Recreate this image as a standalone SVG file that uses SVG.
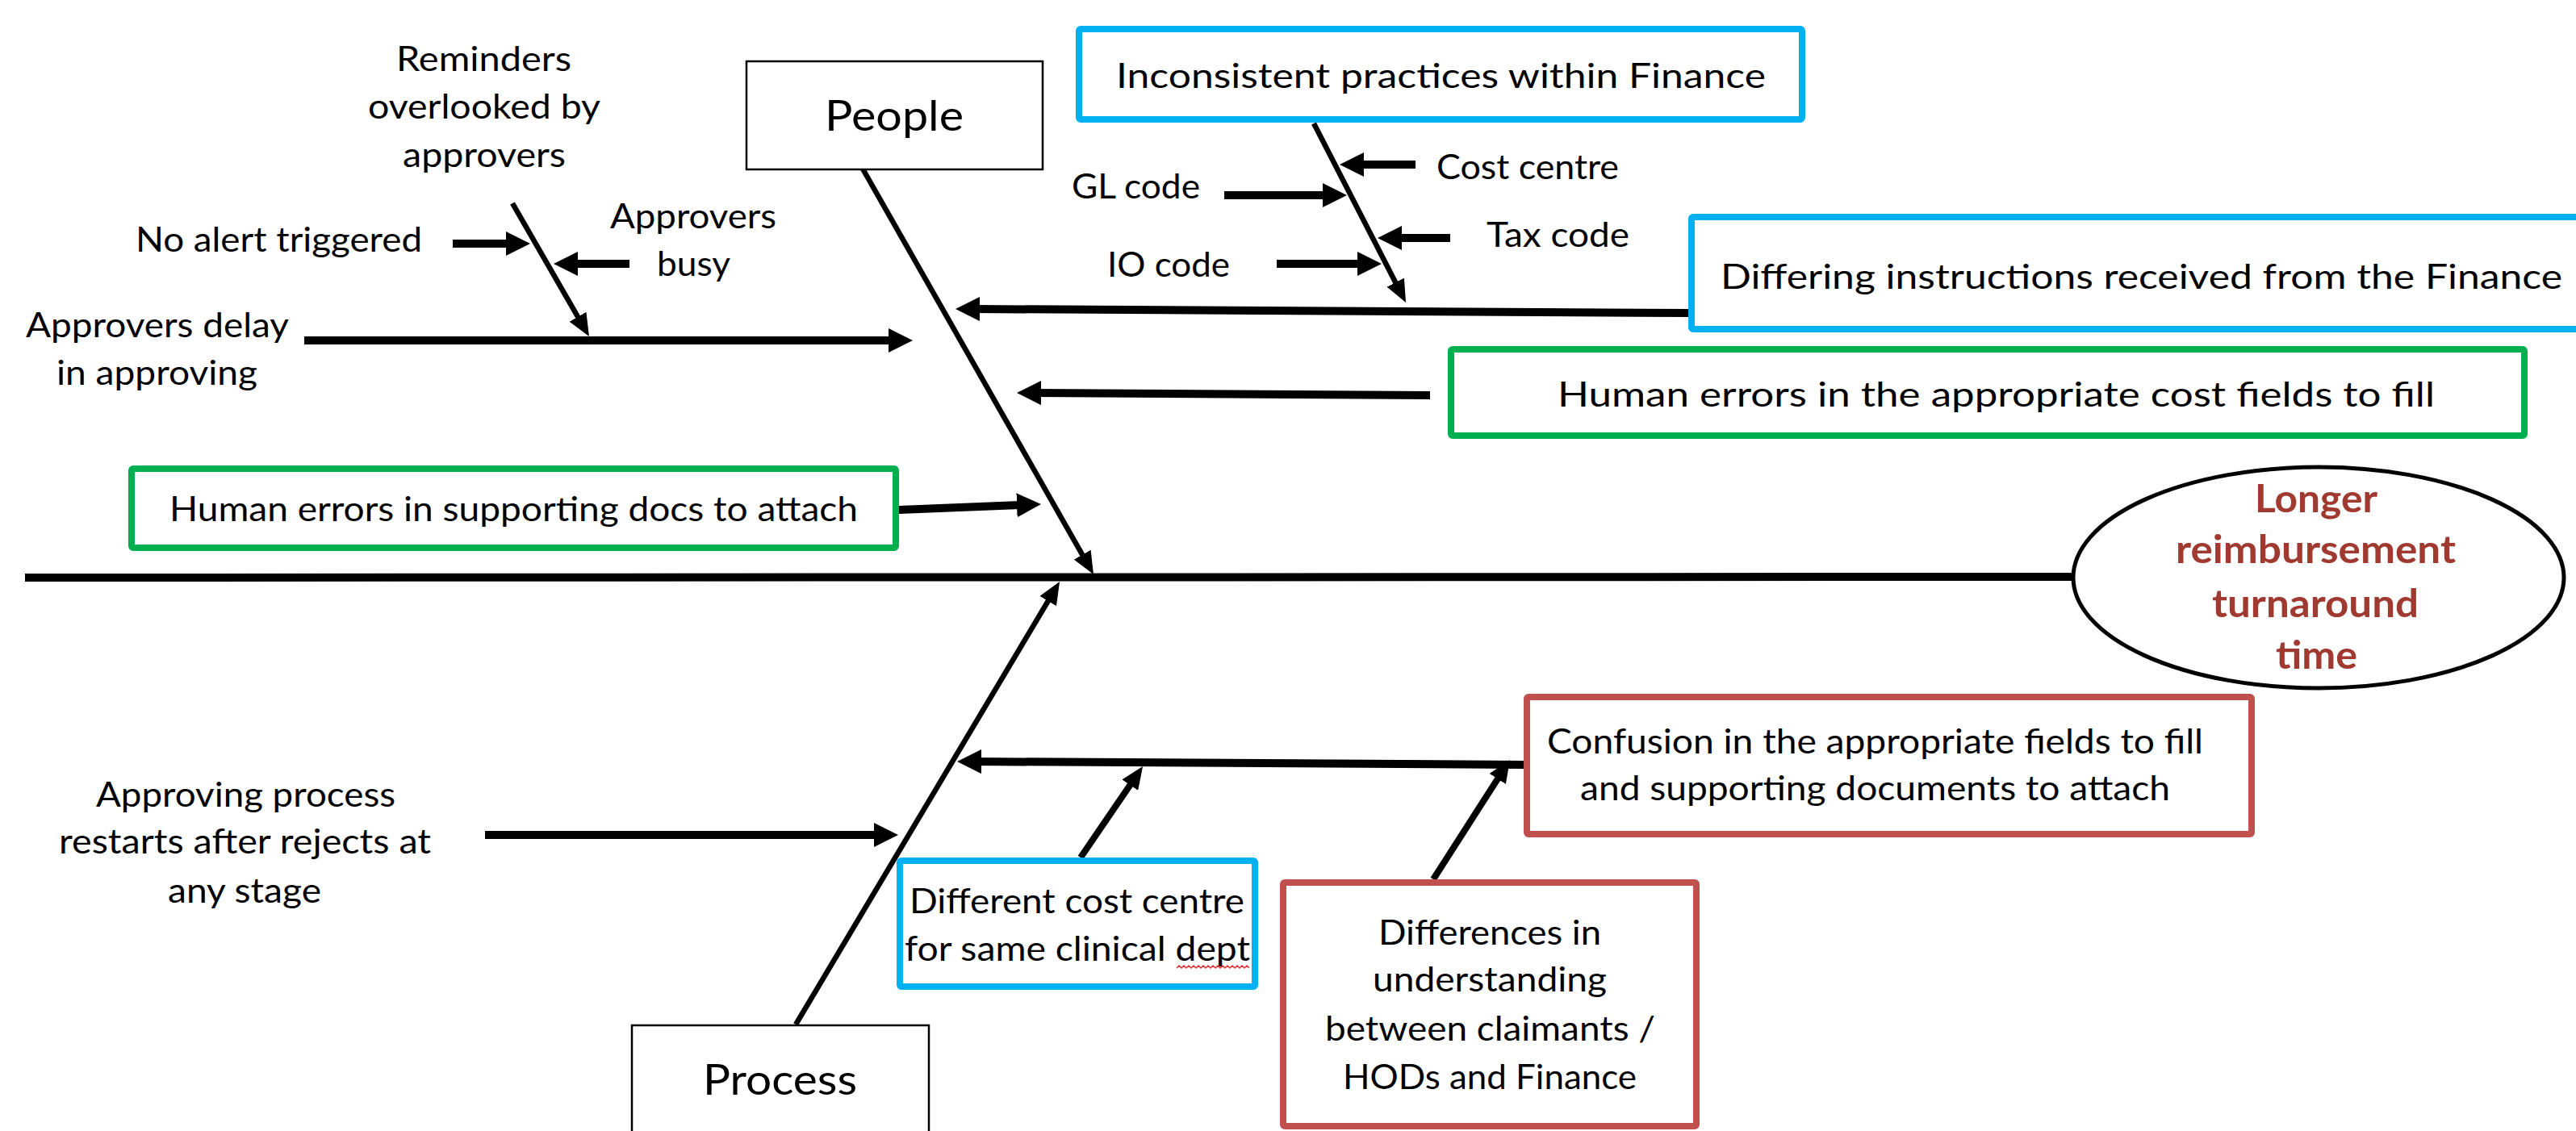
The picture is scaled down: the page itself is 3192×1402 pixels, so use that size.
<svg xmlns="http://www.w3.org/2000/svg" width="3192" height="1402" viewBox="0 0 3192 1402">
<style>
.t { font-family: Lato, 'Liberation Sans', sans-serif; font-size: 43px; fill: #000; }
.big { font-size: 52px; }
.eff { font-family: Lato, 'Liberation Sans', sans-serif; font-weight: bold; font-size: 47px; fill: #A0392F; }
.bx { fill: #fff; stroke-width: 8; }
.blue { stroke: #00B0F0; }
.green { stroke: #00B050; }
.red { stroke: #C0504D; }
.cat { fill: #fff; stroke: #000; stroke-width: 2.5; }
.arr { stroke: #000; stroke-width: 10; fill: none; marker-end: url(#ah); }
.bone { stroke: #000; stroke-width: 6.5; fill: none; marker-end: url(#ab); }
.dg { stroke: #000; stroke-width: 8; fill: none; marker-end: url(#ab); }
</style>
<defs>
<marker id="ah" markerUnits="userSpaceOnUse" markerWidth="30" markerHeight="30" viewBox="0 0 30 30" refX="10" refY="15" orient="auto"><path d="M0,0 L30,15 L0,30 z" fill="#000"/></marker>
<marker id="ab" markerUnits="userSpaceOnUse" markerWidth="28" markerHeight="24" viewBox="0 0 28 24" refX="10" refY="12" orient="auto"><path d="M0,0 L28,12 L0,24 z" fill="#000"/></marker>
</defs>
<rect width="3192" height="1402" fill="#fff"/>
<g id="connectors">
<line x1="31" y1="716" x2="2572" y2="715" stroke="#000" stroke-width="10"/>
<line class="bone" x1="1066" y1="204" x2="1346.1" y2="696.3"/>
<line class="bone" x1="986" y1="1270" x2="1303.8" y2="736.5"/>
<line class="bone" x1="635" y1="252" x2="721" y2="401.4"/>
<line class="bone" x1="1628" y1="153" x2="1733.8" y2="359"/>
<line class="arr" x1="377" y1="422" x2="1111" y2="422"/>
<line class="arr" x1="561" y1="302" x2="637" y2="302"/>
<line class="arr" x1="780" y1="327" x2="706" y2="327"/>
<line class="arr" x1="1754" y1="204" x2="1680" y2="204"/>
<line class="arr" x1="1517" y1="242" x2="1649" y2="242"/>
<line class="arr" x1="1797" y1="295" x2="1727" y2="295"/>
<line class="arr" x1="1582" y1="327" x2="1692" y2="327"/>
<line class="arr" x1="2094" y1="388" x2="1204" y2="383"/>
<line class="arr" x1="1772" y1="490" x2="1280" y2="487"/>
<line class="arr" x1="1114" y1="632" x2="1270" y2="625.8"/>
<line class="arr" x1="601" y1="1035" x2="1093" y2="1035"/>
<line class="arr" x1="1890" y1="948" x2="1206" y2="944"/>
<line class="dg" x1="1339" y1="1063" x2="1405.9" y2="964.9"/>
<line class="dg" x1="1776" y1="1090" x2="1861.2" y2="957.1"/>
</g>
<g id="people">
<rect class="cat" x="925" y="76" width="367" height="134"/>
<text class="t big" x="1022" y="162" textLength="172" lengthAdjust="spacingAndGlyphs">People</text>
</g>
<g id="process">
<rect class="cat" x="783" y="1271" width="368" height="200"/>
<text class="t big" x="871" y="1357" textLength="191" lengthAdjust="spacingAndGlyphs">Process</text>
</g>
<g id="reminders">
<text class="t" x="491" y="88" textLength="217" lengthAdjust="spacingAndGlyphs">Reminders</text>
<text class="t" x="456" y="147" textLength="288" lengthAdjust="spacingAndGlyphs">overlooked by</text>
<text class="t" x="499" y="207" textLength="202" lengthAdjust="spacingAndGlyphs">approvers</text>
</g>
<g id="no-alert">
<text class="t" x="168" y="312" textLength="355" lengthAdjust="spacingAndGlyphs">No alert triggered</text>
</g>
<g id="approvers-busy">
<text class="t" x="756" y="283" textLength="206" lengthAdjust="spacingAndGlyphs">Approvers</text>
<text class="t" x="814" y="342" textLength="91" lengthAdjust="spacingAndGlyphs">busy</text>
</g>
<g id="approvers-delay">
<text class="t" x="32" y="418" textLength="326" lengthAdjust="spacingAndGlyphs">Approvers delay</text>
<text class="t" x="70" y="477" textLength="249" lengthAdjust="spacingAndGlyphs">in approving</text>
</g>
<g id="inconsistent">
<rect class="bx blue" x="1337" y="36" width="896" height="112" rx="2"/>
<text class="t" x="1383" y="109" textLength="805" lengthAdjust="spacingAndGlyphs">Inconsistent practices within Finance</text>
</g>
<g id="cost-centre">
<text class="t" x="1780" y="222" textLength="226" lengthAdjust="spacingAndGlyphs">Cost centre</text>
</g>
<g id="gl-code">
<text class="t" x="1328" y="246" textLength="159" lengthAdjust="spacingAndGlyphs">GL code</text>
</g>
<g id="tax-code">
<text class="t" x="1842" y="306" textLength="177" lengthAdjust="spacingAndGlyphs">Tax code</text>
</g>
<g id="io-code">
<text class="t" x="1372" y="343" textLength="152" lengthAdjust="spacingAndGlyphs">IO code</text>
</g>
<g id="differing">
<rect class="bx blue" x="2096" y="269" width="1110" height="139" rx="2"/>
<text class="t" x="2132" y="358" textLength="1043" lengthAdjust="spacingAndGlyphs">Differing instructions received from the Finance</text>
</g>
<g id="human-cost">
<rect class="bx green" x="1798" y="433" width="1330" height="107" rx="2"/>
<text class="t" x="1930" y="504" textLength="1087" lengthAdjust="spacingAndGlyphs">Human errors in the appropriate cost fields to fill</text>
</g>
<g id="human-docs">
<rect class="bx green" x="163" y="581" width="947" height="98" rx="2"/>
<text class="t" x="210" y="646" textLength="853" lengthAdjust="spacingAndGlyphs">Human errors in supporting docs to attach</text>
</g>
<g id="effect">
<ellipse cx="2873" cy="716" rx="304" ry="137" fill="#fff" stroke="#000" stroke-width="5"/>
<text class="eff" x="2794" y="635" textLength="152" lengthAdjust="spacingAndGlyphs">Longer</text>
<text class="eff" x="2696" y="698" textLength="347" lengthAdjust="spacingAndGlyphs">reimbursement</text>
<text class="eff" x="2741" y="765" textLength="256" lengthAdjust="spacingAndGlyphs">turnaround</text>
<text class="eff" x="2820" y="829" textLength="101" lengthAdjust="spacingAndGlyphs">time</text>
</g>
<g id="confusion">
<rect class="bx red" x="1892" y="864" width="898" height="170" rx="2"/>
<text class="t" x="1917" y="934" textLength="813" lengthAdjust="spacingAndGlyphs">Confusion in the appropriate fields to fill</text>
<text class="t" x="1958" y="992" textLength="731" lengthAdjust="spacingAndGlyphs">and supporting documents to attach</text>
</g>
<g id="differences">
<rect class="bx red" x="1590" y="1094" width="512" height="302" rx="2"/>
<text class="t" x="1708" y="1171" textLength="276" lengthAdjust="spacingAndGlyphs">Differences in</text>
<text class="t" x="1701" y="1229" textLength="290" lengthAdjust="spacingAndGlyphs">understanding</text>
<text class="t" x="1642" y="1290" textLength="409" lengthAdjust="spacingAndGlyphs">between claimants /</text>
<text class="t" x="1664" y="1350" textLength="364" lengthAdjust="spacingAndGlyphs">HODs and Finance</text>
</g>
<g id="different-cost">
<rect class="bx blue" x="1115" y="1067" width="440" height="156" rx="2"/>
<text class="t" x="1127" y="1132" textLength="415" lengthAdjust="spacingAndGlyphs">Different cost centre</text>
<text class="t" x="1121" y="1191" textLength="428" lengthAdjust="spacingAndGlyphs">for same clinical dept</text>
<path d="M1458,1200 l3,-3 l3,3 l3,-3 l3,3 l3,-3 l3,3 l3,-3 l3,3 l3,-3 l3,3 l3,-3 l3,3 l3,-3 l3,3 l3,-3 l3,3 l3,-3 l3,3 l3,-3 l3,3 l3,-3 l3,3 l3,-3 l3,3 l3,-3 l3,3 l3,-3 l3,3 l3,-3 l3,3" fill="none" stroke="#E03030" stroke-width="1.5"/>
</g>
<g id="approving-restarts">
<text class="t" x="119" y="1000" textLength="371" lengthAdjust="spacingAndGlyphs">Approving process</text>
<text class="t" x="73" y="1058" textLength="461" lengthAdjust="spacingAndGlyphs">restarts after rejects at</text>
<text class="t" x="208" y="1119" textLength="190" lengthAdjust="spacingAndGlyphs">any stage</text>
</g>
</svg>
